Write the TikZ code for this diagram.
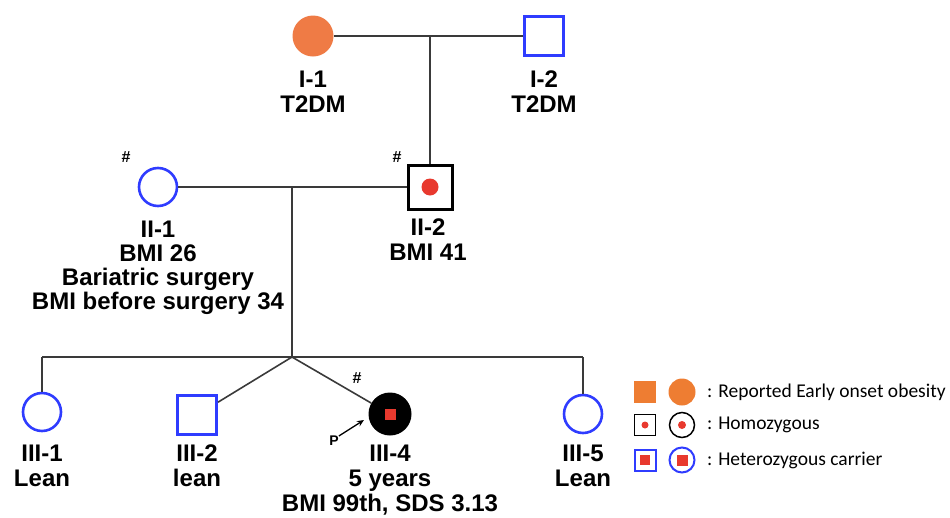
\documentclass[tikz,border=0pt]{standalone}
\usepackage{fontspec}
\setmainfont{Liberation Sans}
\newfontfamily\legendfont{Carlito}
\usetikzlibrary{arrows.meta}

\definecolor{pedblue}{HTML}{2F3CFF}
\definecolor{pedorange}{HTML}{EF7B45}
\definecolor{legorange}{HTML}{EE7D32}
\definecolor{pedred}{HTML}{E8392E}
\definecolor{linegray}{HTML}{3A3A3A}

\tikzset{
  pedline/.style={draw=linegray, line width=1.6pt},
  female/.style={circle, draw=pedblue, line width=2.6pt, minimum size=38pt, inner sep=0pt},
  male/.style={rectangle, draw=pedblue, line width=3pt, minimum size=39pt, inner sep=0pt},
  reddot/.style={circle, fill=pedred, minimum size=#1, inner sep=0pt},
  redbox/.style={rectangle, fill=pedred, minimum size=#1, inner sep=0pt},
  pedlabel/.style={font=\fontsize{24}{25}\selectfont\bfseries, align=center, anchor=north, inner sep=0pt},
  hashmark/.style={font=\fontsize{16}{16}\selectfont\bfseries, inner sep=0pt},
  legtext/.style={font=\legendfont\fontsize{19.5}{20}\selectfont, anchor=west, inner sep=0pt},
}

\begin{document}
\begin{tikzpicture}[x=1pt, y=-1pt]
  \useasboundingbox (0,0) rectangle (950,517);

  % Generation I
  \node[circle, fill=pedorange, minimum size=41pt, inner sep=0pt] (I1) at (313,36) {};
  \node[male] (I2) at (544,36) {};
  \node[pedlabel] (I1lab) at (313,71) {I-1\\T2DM};
  \node[pedlabel] (I2lab) at (544,71) {I-2\\T2DM};
  \coordinate (m1) at (430,36);
  \draw[pedline] (I1) -- (I2);

  % Generation II
  \node[female] (II1) at (158,187) {};
  \node[rectangle, draw=black, line width=3pt, minimum size=44pt, inner sep=0pt] (II2) at (430,187) {};
  \node[reddot=17pt] (II2dot) at (II2) {};
  \node[hashmark] (II1hash) at (126,157) {\#};
  \node[hashmark] (II2hash) at (397,157) {\#};
  \node[pedlabel, font=\fontsize{24}{24}\selectfont\bfseries] (II1lab) at (158,221) {II-1\\BMI 26\\Bariatric surgery\\BMI before surgery 34};
  \node[pedlabel] (II2lab) at (428,219) {II-2\\BMI 41};
  \draw[pedline] (m1) -- (II2);
  \draw[pedline] (II1) -- (II2);
  \coordinate (m2) at (292,187);
  \coordinate (s2) at (292,357);
  \draw[pedline] (m2) -- (s2);

  % Generation III
  \node[female] (III1) at (42,412) {};
  \node[male] (III2) at (197,415) {};
  \node[circle, fill=black, minimum size=43pt, inner sep=0pt] (III4) at (390,414) {};
  \node[redbox=11pt] (III4box) at (III4) {};
  \node[female] (III5) at (583,414) {};
  \node[hashmark] (III4hash) at (357,378) {\#};
  \node[font=\fontsize{14}{14}\selectfont\bfseries, inner sep=0pt] (P) at (334,441) {P};
  \coordinate (ptip) at (364,420);
  \draw[line width=1.3pt, -{Stealth[length=7pt, width=6pt]}] (P.north east) -- (ptip);
  \coordinate (sl) at (42,357);
  \coordinate (sr) at (583,357);
  \draw[pedline] (sl) -- (sr);
  \draw[pedline] (sl) -- (III1);
  \draw[pedline] (sr) -- (III5);
  \draw[pedline] (s2) -- (III2);
  \draw[pedline] (s2) -- (III4);
  \node[pedlabel] (III1lab) at (42,445) {III-1\\Lean};
  \node[pedlabel] (III2lab) at (197,445) {III-2\\lean};
  \node[pedlabel] (III4lab) at (390,445) {III-4\\5 years\\BMI 99th, SDS 3.13};
  \node[pedlabel] (III5lab) at (583,445) {III-5\\Lean};

  % Legend
  \node[rectangle, fill=legorange, minimum size=22pt, inner sep=0pt] (legsq1) at (645,392) {};
  \node[circle, fill=legorange, minimum size=27pt, inner sep=0pt] (legci1) at (682,392) {};
  \node[legtext] (legtx1) at (707,392) {: Reported Early onset obesity};
  \node[rectangle, draw=black, line width=1.5pt, minimum size=21pt, inner sep=0pt] (legsq2) at (645,425) {};
  \node[reddot=7pt] at (legsq2) {};
  \node[circle, draw=black, line width=1.5pt, minimum size=25pt, inner sep=0pt] (legci2) at (682,425) {};
  \node[reddot=8pt] at (legci2) {};
  \node[legtext] (legtx2) at (707,425) {: Homozygous};
  \node[rectangle, draw=pedblue, line width=2pt, minimum size=21pt, inner sep=0pt] (legsq3) at (645,460) {};
  \node[redbox=10pt] at (legsq3) {};
  \node[circle, draw=pedblue, line width=2pt, minimum size=25pt, inner sep=0pt] (legci3) at (682,460) {};
  \node[redbox=11pt] at (legci3) {};
  \node[legtext] (legtx3) at (707,460) {: Heterozygous carrier};
\end{tikzpicture}
\end{document}
